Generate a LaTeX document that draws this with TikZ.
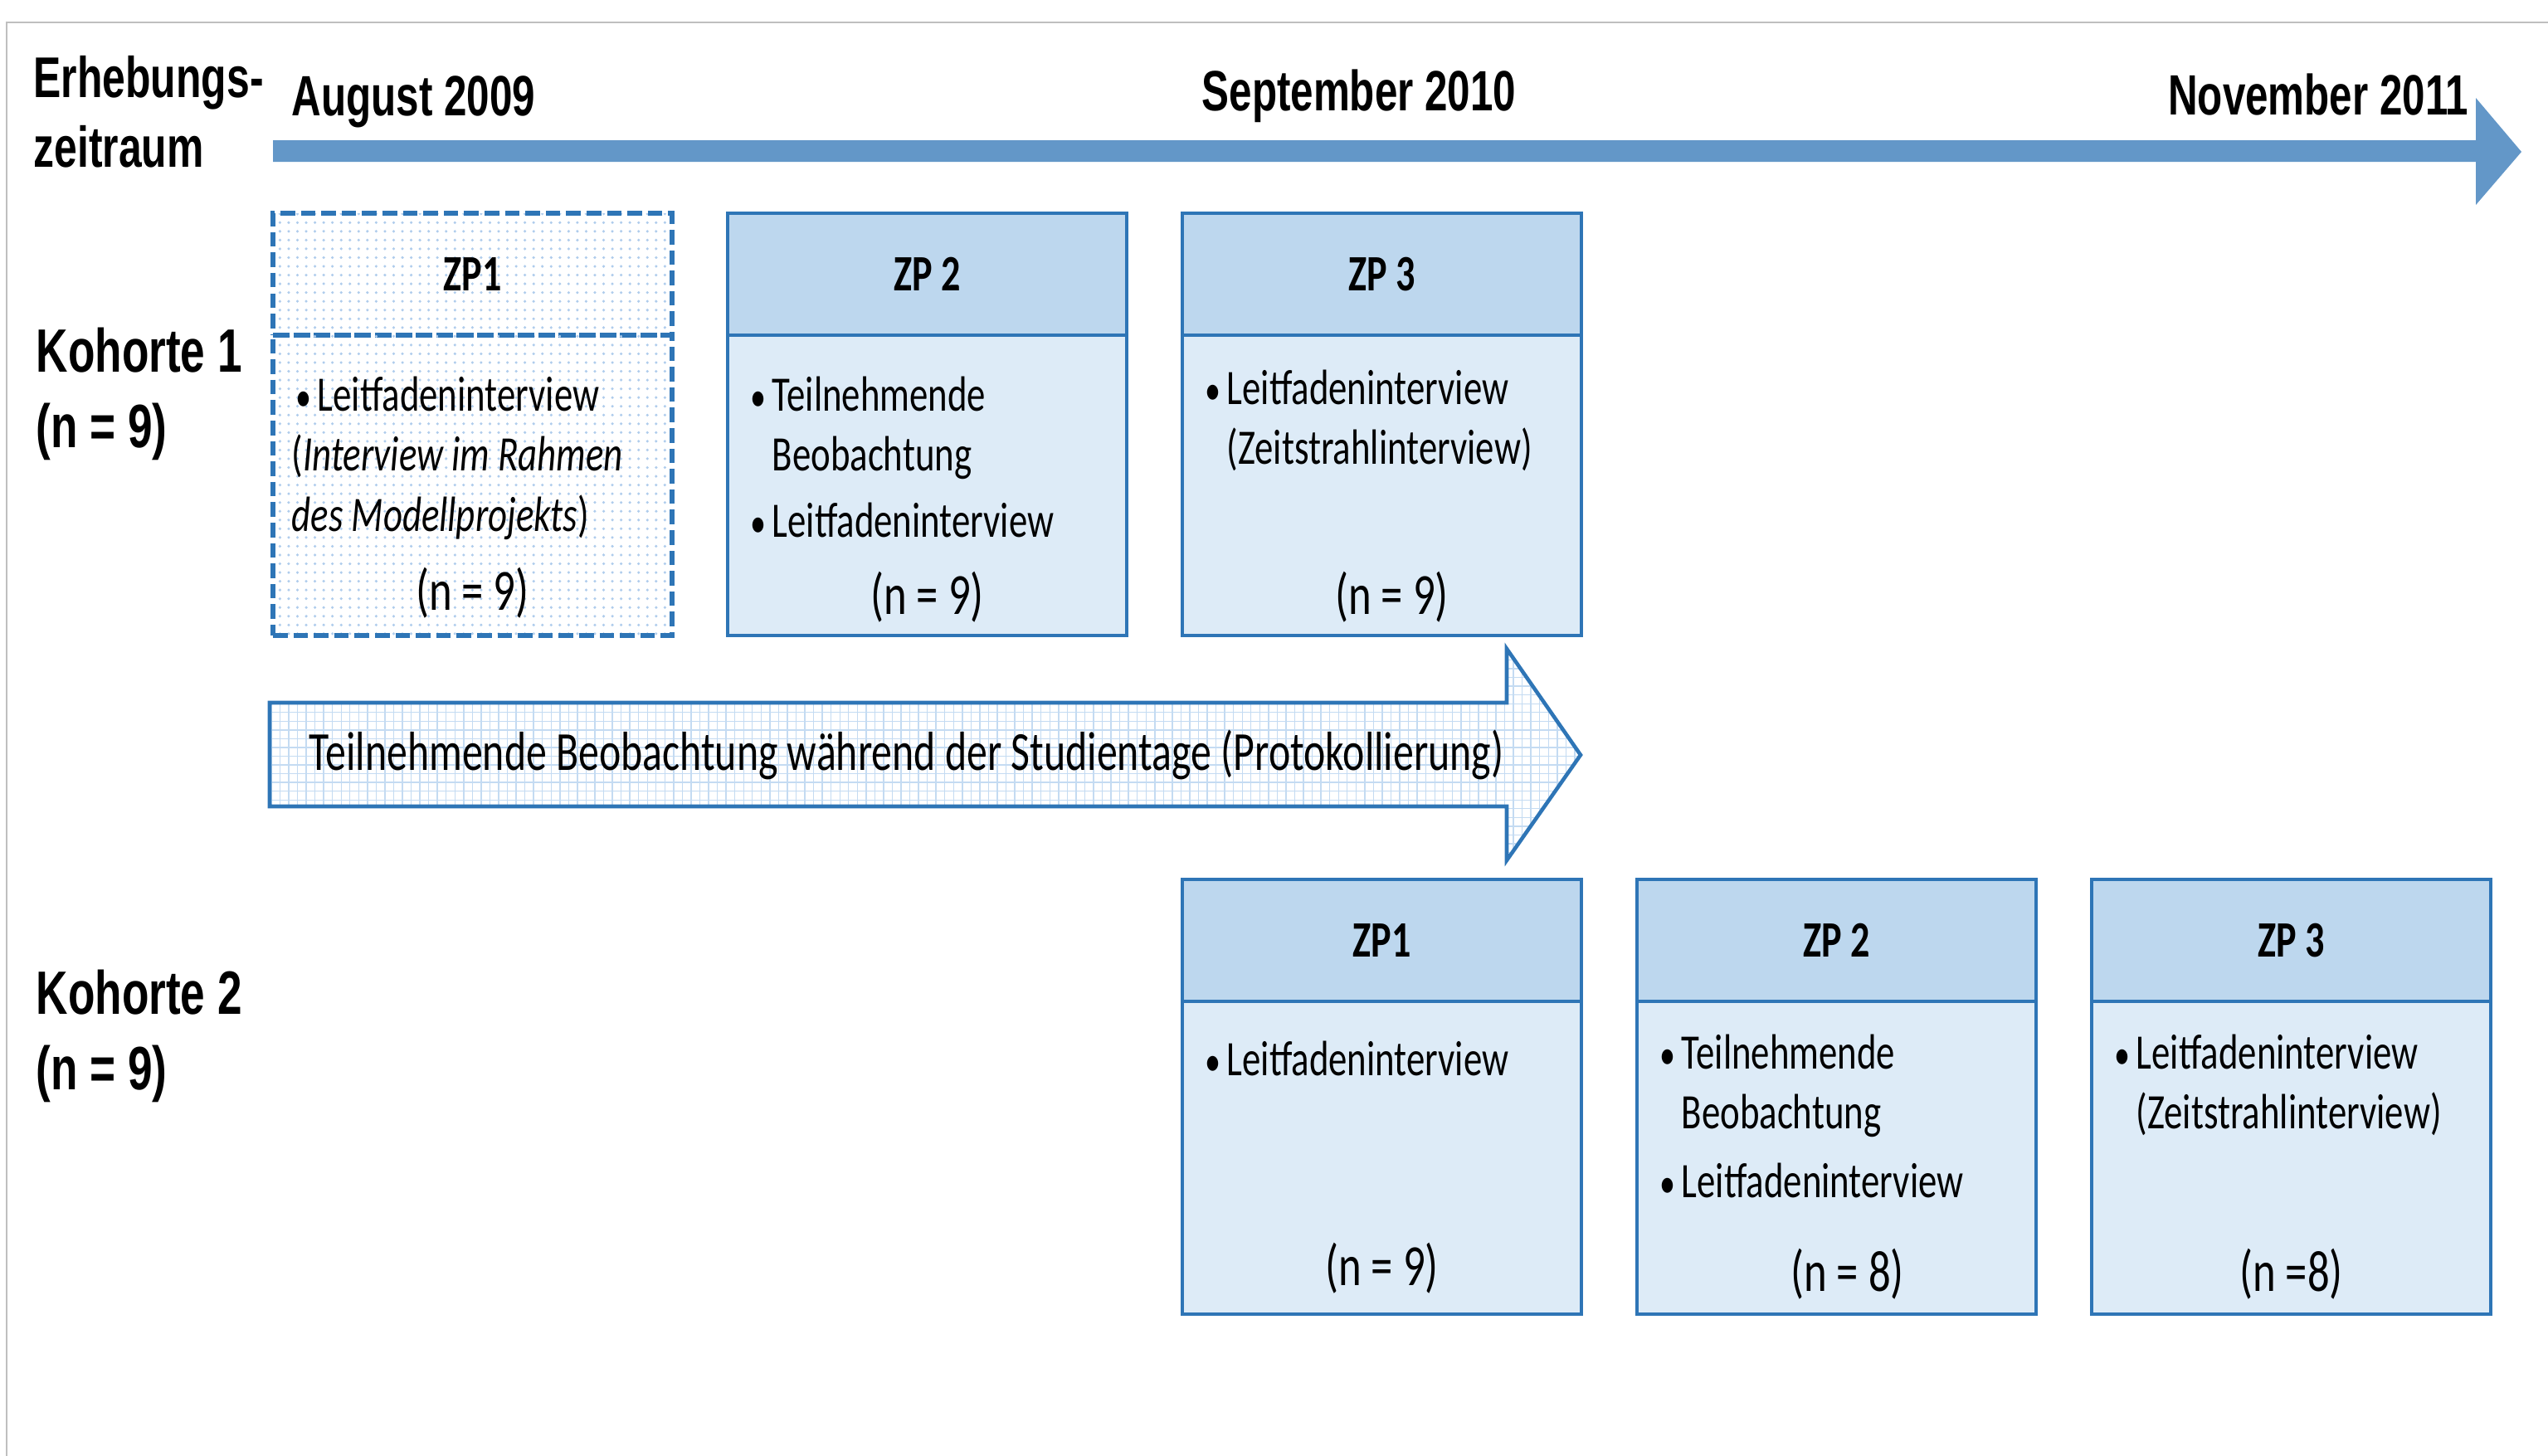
\documentclass[tikz,border=0pt]{standalone}
\usepackage{fontspec}
\setmainfont{Carlito}[FakeStretch=0.75]
\newfontfamily\headfont{Liberation Sans}[FakeStretch=0.72]
\usepackage{tikz}
\usetikzlibrary{positioning}
\usetikzlibrary{calc}
\usetikzlibrary{patterns}
\definecolor{zpblue}{RGB}{46,117,182}
\definecolor{headfill}{RGB}{189,215,238}
\definecolor{bodyfill}{RGB}{221,235,247}
\definecolor{timeblue}{RGB}{99,151,200}
\definecolor{framegray}{RGB}{191,191,191}
\definecolor{dotblue}{RGB}{175,204,236}
\definecolor{gridblue}{RGB}{196,219,242}
\newcommand{\bul}{\makebox[0.27cm][l]{\hspace*{0.01cm}\scalebox{0.85}{\textbullet}}}
\newcommand{\einr}{\hspace*{0.27cm}}
\tikzstyle{zphead} = [rectangle, draw=zpblue, line width=1.3pt, fill=headfill, minimum width=4.81cm, minimum height=1.47cm, inner sep=0pt, outer sep=0pt, font=\fontsize{17.5}{21}\selectfont\bfseries]
\tikzstyle{zpbody} = [rectangle, draw=zpblue, line width=1.3pt, fill=bodyfill, minimum width=4.81cm, inner sep=0pt, outer sep=0pt]
\tikzstyle{zpdash} = [line width=1.6pt, dash pattern=on 5pt off 2pt, pattern=dots, pattern color=dotblue]
\tikzstyle{inhalt} = [anchor=base west, align=flush left, text width=4.6cm, inner sep=0pt, font=\fontsize{17}{20.7}\selectfont]
\tikzstyle{anzahl} = [anchor=base, inner sep=0pt, font=\fontsize{20}{24}\selectfont]
\tikzstyle{titel} = [anchor=base west, align=flush left, text width=3.2cm, inner sep=0pt, font=\headfont\bfseries\fontsize{21}{26}\selectfont]
\tikzstyle{datum} = [anchor=base west, inner sep=0pt, font=\headfont\bfseries\fontsize{19.5}{24}\selectfont]

\begin{document}
\begin{tikzpicture}[node distance = 0.67cm]
	\useasboundingbox (0,0) rectangle (30.71,-17.55);
	\draw[framegray, line width=0.8pt] (0.08,-17.55) -- (0.08,-0.27) -- (30.71,-0.27);

	% Zeitachse
	\fill[timeblue] (3.29,-1.69) -- (29.84,-1.69) -- (29.84,-1.18) -- (30.39,-1.83) -- (29.84,-2.47) -- (29.84,-1.95) -- (3.29,-1.95) -- cycle;
	\node[titel, font=\headfont\bfseries\fontsize{19.7}{24.1}\selectfont] (Erhebung) at (0.40,-1.17) {Erhebungs-\\zeitraum};
	\node[datum] (Aug09) at (3.51,-1.40) {August 2009};
	\node[datum] (Sep10) at (14.48,-1.33) {September 2010};
	\node[datum, anchor=base east] (Nov11) at (29.76,-1.38) {November 2011};

	% Kohorte 1
	\node[titel] (Kohorte1) at (0.43,-4.48) {Kohorte 1\\(n = 9)};
	\node[zphead, fill=white, zpdash, anchor=north west] (K1-ZP1) at (3.29,-2.57) {ZP1};
	\node[zphead, right=of K1-ZP1] (K1-ZP2) {ZP 2};
	\node[zphead, right=of K1-ZP2] (K1-ZP3) {ZP 3};
	\node[zpbody, fill=white, zpdash, minimum height=3.62cm, below=0cm of K1-ZP1] (K1-B1) {};
	\node[zpbody, minimum height=3.62cm, below=0cm of K1-ZP2] (K1-B2) {};
	\node[zpbody, minimum height=3.62cm, below=0cm of K1-ZP3] (K1-B3) {};

	\node[inhalt] (K1-T1) at ([xshift=0.26cm, yshift=-0.91cm]K1-B1.north west) {\bul Leitfadeninterview\\\hspace*{-0.04cm}(\textit{Interview im Rahmen}\\\hspace*{-0.04cm}\textit{des Modellprojekts})};
	\node[inhalt] (K1-T2) at ([xshift=0.26cm, yshift=-0.91cm]K1-B2.north west) {\bul Teilnehmende\\\einr Beobachtung\\[0.07cm]\bul Leitfadeninterview};
	\node[inhalt] (K1-T3) at ([xshift=0.26cm, yshift=-0.83cm]K1-B3.north west) {\bul Leitfadeninterview\\\einr(Zeitstrahlinterview)};
	\node[anzahl] (K1-N1) at ([yshift=0.31cm]K1-B1.south) {(n = 9)};
	\node[anzahl] (K1-N2) at ([yshift=0.26cm]K1-B2.south) {(n = 9)};
	\node[anzahl] (K1-N3) at ([xshift=0.12cm, yshift=0.26cm]K1-B3.south) {(n = 9)};

	% Teilnehmende Beobachtung
	\draw[zpblue, line width=1.3pt, pattern=grid, pattern color=gridblue] (3.25,-8.47) -- (18.16,-8.47) -- (18.16,-7.82) -- (19.05,-9.10) -- (18.16,-10.37) -- (18.16,-9.72) -- (3.25,-9.72) -- cycle;
	\node[inhalt, text width=15cm, font=\fontsize{18.9}{22}\selectfont] (Studientage) at (3.72,-9.28) {Teilnehmende Beobachtung während der Studientage (Protokollierung)};

	% Kohorte 2
	\node[titel] (Kohorte2) at (0.43,-12.22) {Kohorte 2\\(n = 9)};
	\node[zphead, anchor=north west] (K2-ZP1) at (14.25,-10.60) {ZP1};
	\node[zphead, right=of K2-ZP1] (K2-ZP2) {ZP 2};
	\node[zphead, right=of K2-ZP2] (K2-ZP3) {ZP 3};
	\node[zpbody, minimum height=3.77cm, below=0cm of K2-ZP1] (K2-B1) {};
	\node[zpbody, minimum height=3.77cm, below=0cm of K2-ZP2] (K2-B2) {};
	\node[zpbody, minimum height=3.77cm, below=0cm of K2-ZP3] (K2-B3) {};

	\node[inhalt] (K2-T1) at ([xshift=0.26cm, yshift=-0.89cm]K2-B1.north west) {\bul Leitfadeninterview};
	\node[inhalt] (K2-T2) at ([xshift=0.26cm, yshift=-0.81cm]K2-B2.north west) {\bul Teilnehmende\\\einr Beobachtung\\[0.1cm]\bul Leitfadeninterview};
	\node[inhalt] (K2-T3) at ([xshift=0.26cm, yshift=-0.81cm]K2-B3.north west) {\bul Leitfadeninterview\\\einr(Zeitstrahlinterview)};
	\node[anzahl] (K2-N1) at ([yshift=0.35cm]K2-B1.south) {(n = 9)};
	\node[anzahl] (K2-N2) at ([xshift=0.13cm, yshift=0.28cm]K2-B2.south) {(n = 8)};
	\node[anzahl] (K2-N3) at ([yshift=0.28cm]K2-B3.south) {(n =8)};
\end{tikzpicture}
\end{document}
